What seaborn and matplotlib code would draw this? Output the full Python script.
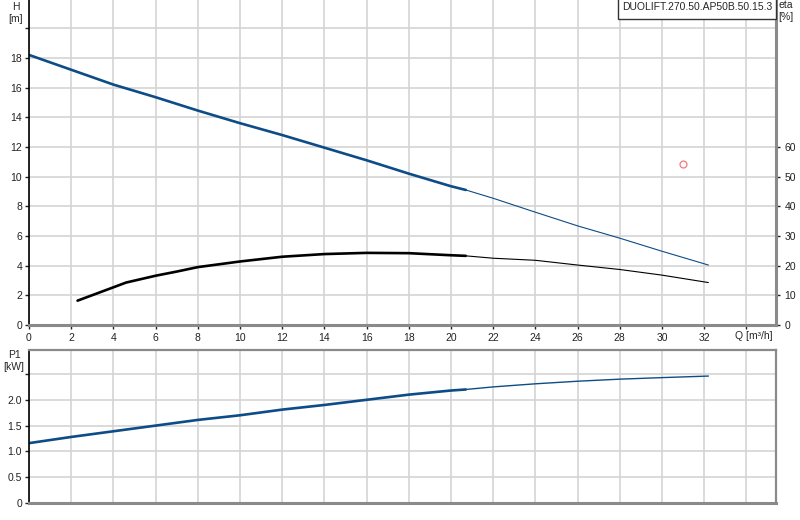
import matplotlib
matplotlib.use("Agg")
import matplotlib.pyplot as plt
from matplotlib.patches import Rectangle
import seaborn as sns

# head curve H [m] vs flow Q [m3/h] (thick = duty range, thin = extension)
q_head = [0, 2, 4, 6, 8, 10, 12, 14, 16, 18, 20, 20.7]
head = [18.2, 17.2, 16.2, 15.35, 14.45, 13.6, 12.8, 11.95, 11.1, 10.2, 9.35, 9.1]
q_head_ext = [20.7, 22, 24, 26, 28, 30, 32.2]
head_ext = [9.1, 8.54, 7.6, 6.68, 5.85, 4.97, 4.04]

# efficiency eta [%]
q_eta = [2.3, 4, 4.6, 6, 7, 8, 10, 12, 14, 16, 18, 20, 20.7]
eta = [8.2, 12.7, 14.3, 16.6, 18.0, 19.5, 21.4, 23.0, 23.9, 24.3, 24.2, 23.5, 23.3]
q_eta_ext = [20.7, 22, 24, 26, 28, 30, 32.2]
eta_ext = [23.3, 22.5, 21.8, 20.2, 18.7, 16.8, 14.3]

# power input P1 [kW]
q_p1 = [0, 2, 4, 6, 8, 10, 12, 14, 16, 18, 20, 20.7]
p1 = [1.16, 1.28, 1.39, 1.50, 1.61, 1.70, 1.81, 1.90, 2.0, 2.10, 2.18, 2.2]
q_p1_ext = [20.7, 22, 24, 26, 28, 30, 32.2]
p1_ext = [2.2, 2.25, 2.31, 2.36, 2.40, 2.43, 2.46]

# duty point
duty_q = [31.0]
duty_h = [10.88]

q_ticks = list(range(0, 36, 2))
q_labels = [str(v) for v in range(0, 34, 2)] + [""]
h_ticks = list(range(0, 22, 2))
h_labels = [str(v) for v in range(0, 20, 2)] + [""]
eta_ticks = list(range(0, 70, 10))
p1_ticks = [0, 0.5, 1.0, 1.5, 2.0, 2.5]
p1_labels = ["0", "0.5", "1.0", "1.5", "2.0", ""]

sns.set_style("white")
plt.rcParams["font.family"] = ["Liberation Sans", "DejaVu Sans"]

blue = "#0d4c86"
grid_c = "#d4d4d4"
spine_c = "#8a8a8a"
fs = 7.5

fig = plt.figure(figsize=(8, 5.2), dpi=100)
ax = fig.add_axes([29 / 800, 195 / 520, 747 / 800, 325 / 520])
ax2 = ax.twinx()
axp = fig.add_axes([29 / 800, 17 / 520, 747 / 800, 153 / 520])

xmax = 747 / 21.1
hmax = 325 / 14.84

# top panel: head + efficiency
sns.lineplot(x=q_head, y=head, ax=ax, color=blue, lw=1.9)
sns.lineplot(x=q_head_ext, y=head_ext, ax=ax, color=blue, lw=0.8)
ax.plot(duty_q, duty_h, "o", mfc="none", mec="#f07a7a", ms=5, mew=0.9)
sns.lineplot(x=q_eta, y=eta, ax=ax2, color="black", lw=1.9)
sns.lineplot(x=q_eta_ext, y=eta_ext, ax=ax2, color="black", lw=0.8)

ax.set_xlim(0, xmax)
ax.set_ylim(0, hmax)
ax2.set_ylim(0, hmax * 5)
ax.set_xticks(q_ticks)
ax.set_xticklabels(q_labels)
ax.set_yticks(h_ticks)
ax.set_yticklabels(h_labels)
ax2.set_yticks(eta_ticks)
ax.grid(True, color=grid_c, lw=1.2)
ax.set_axisbelow(True)

# bottom panel: power
sns.lineplot(x=q_p1, y=p1, ax=axp, color=blue, lw=1.9)
sns.lineplot(x=q_p1_ext, y=p1_ext, ax=axp, color=blue, lw=1.0)
axp.set_xlim(0, xmax)
axp.set_ylim(0, 153 / 51.6)
axp.set_xticks(q_ticks)
axp.set_xticklabels([])
axp.set_yticks(p1_ticks)
axp.set_yticklabels(p1_labels)
axp.grid(True, color=grid_c, lw=1.2)
axp.set_axisbelow(True)

for a in (ax, ax2, axp):
    a.set_xlabel("")
    a.set_ylabel("")

# spines
ax.spines["top"].set_visible(False)
ax2.spines["top"].set_visible(False)
ax.spines["left"].set_color("black")
ax.spines["left"].set_linewidth(1.2)
ax.spines["bottom"].set_color(spine_c)
ax.spines["bottom"].set_linewidth(2.2)
ax2.spines["right"].set_color(spine_c)
ax2.spines["right"].set_linewidth(2.2)
ax.spines["right"].set_visible(False)
ax2.spines["left"].set_visible(False)
ax2.spines["bottom"].set_visible(False)
axp.spines["left"].set_color("black")
axp.spines["left"].set_linewidth(1.2)
for s in ("top", "right", "bottom"):
    axp.spines[s].set_color(spine_c)
    axp.spines[s].set_linewidth(1.6)
axp.spines["bottom"].set_linewidth(2.2)

ax.tick_params(axis="y", direction="out", length=3, width=1, pad=2,
               labelsize=fs, colors="#222222", left=True, right=False)
ax.tick_params(axis="x", direction="out", length=3, width=1, pad=3,
               labelsize=fs, colors="#222222", bottom=True, top=False)
ax2.tick_params(axis="y", direction="out", length=3, width=1, pad=3,
                labelsize=fs, colors="#222222", right=True, left=False)
axp.tick_params(axis="y", direction="out", length=3, width=1, pad=2,
                labelsize=fs, colors="#222222", left=True, right=False)
axp.tick_params(axis="x", length=0, bottom=False, top=False)

# labels
fig.text(16 / 800, 1 - 12.5 / 520, "H\n[m]", ha="center", va="center",
         fontsize=fs, linespacing=1.25)
fig.text(786 / 800, 1 - 11 / 520, "eta\n[%]", ha="center", va="center",
         fontsize=fs, linespacing=1.25)
fig.text(14 / 800, 1 - 361 / 520, "P1\n[kW]", ha="center", va="center",
         fontsize=fs, linespacing=1.25)
fig.text(735 / 800, 1 - 336 / 520, "Q [m\u00b3/h]", ha="left", va="center",
         fontsize=fs)

# type label box in the top right corner
box_w = 158 / 747
box_h = 19 / 325
ax2.add_patch(Rectangle((1 - box_w, 1 - box_h), box_w, box_h + 0.02,
                        transform=ax2.transAxes, fc="white", ec="#333333",
                        lw=1, zorder=9, clip_on=False))
ax2.text(1 - box_w / 2, 1 - 7.5 / 325, "DUOLIFT.270.50.AP50B.50.15.3",
         transform=ax2.transAxes, ha="center", va="center", fontsize=fs,
         zorder=10)

fig.savefig("out.png", dpi=100)
